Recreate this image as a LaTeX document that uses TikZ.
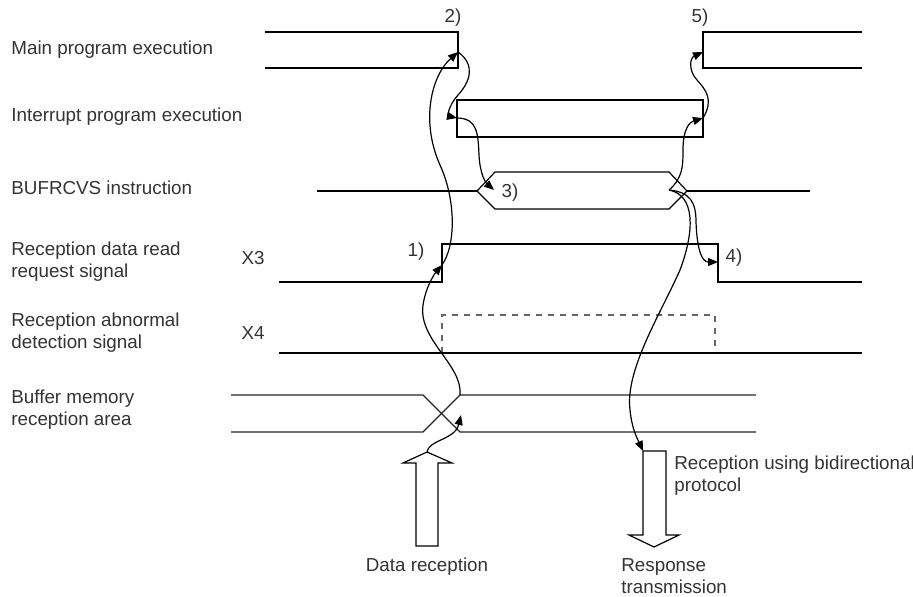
\documentclass[tikz,border=0pt]{standalone}
\usepackage{fontspec}
\setmainfont{Liberation Sans}
\usetikzlibrary{arrows.meta}

\begin{document}
\begin{tikzpicture}[x=0.5pt, y=-0.5pt,
    every node/.style={font=\fontsize{9.4}{11}\selectfont, text=black!80, inner sep=0pt},
    lbl/.style={anchor=west, align=left},
    sig/.style={line width=0.6pt},
    flow/.style={-{Triangle[length=5pt,width=4pt]}, line width=0.6pt}]
    \useasboundingbox (0,0) rectangle (913,596);

    % Row labels
    \node[lbl] (lmain) at (11,50) {Main program execution};
    \node[lbl] (lint) at (11,117) {Interrupt program execution};
    \node[lbl] (linst) at (11,188) {BUFRCVS instruction};
    \node[lbl] (lx3) at (11,262) {Reception data read\\request signal};
    \node[lbl] (lx4) at (11,333) {Reception abnormal\\detection signal};
    \node[lbl] (lbuf) at (11,410) {Buffer memory\\reception area};
    \node (x3) at (253,258) {X3};
    \node (x4) at (253,333) {X4};

    % Main program
    \draw[sig] (265,32) -- (458,32) -- (458,68) -- (265,68);
    \draw[sig] (862,32) -- (703,32) -- (703,68) -- (862,68);
    \node (n2) at (453,18) {2)};
    \node (n5) at (700,18) {5)};

    % Interrupt program
    \draw[sig] (457,100) rectangle (703,137);

    % BUFRCVS instruction
    \draw[sig] (317,191) -- (477,191);
    \draw[sig] (477,191) -- (495,172) -- (669,172) -- (687,191) -- (669,209) -- (495,209) -- cycle;
    \draw[sig] (687,191) -- (810,191);
    \node (n3) at (510,193) {3)};

    % X3 and X4
    \draw[sig] (279,282) -- (442,282) -- (442,244) -- (718,244) -- (718,282) -- (862,282);
    \node (n1) at (416,252) {1)};
    \node (n4) at (734,258) {4)};
    \draw[dashed, black!60, line width=0.6pt] (442,353) -- (442,315) -- (715,315) -- (715,353);
    \draw[line width=0.9pt] (279,353) -- (862,353);

    % Buffer memory
    \draw[sig, black!85] (231,395) -- (423,395) -- (460,432) -- (756,432);
    \draw[sig, black!85] (231,432) -- (423,432) -- (460,395) -- (756,395);

    % Block arrows
    \draw[sig] (416,546) -- (416,463) -- (403,463) -- (427,452) -- (452,463) -- (438,463) -- (438,546) -- cycle;
    \draw[sig] (643,451) -- (643,535) -- (629,535) -- (654,547) -- (679,535) -- (666,535) -- (666,451) -- cycle;
    \node (lrx) at (427,567) {Data reception};
    \node[lbl] (ltx) at (621,576) {Response\\transmission};
    \node[lbl] (lbi) at (674,476) {Reception using bidirectional\\protocol};

    % Event points
    \coordinate (rxTip) at (427,453);
    \coordinate (bufIn) at (461,415);
    \coordinate (bufTop) at (460,395);
    \coordinate (x3Rise) at (442,265);
    \coordinate (mainEnd) at (458,52);
    \coordinate (intStart) at (457,118);
    \coordinate (instHead) at (494,190);
    \coordinate (instEnd) at (669,190);
    \coordinate (intEnd) at (703,118);
    \coordinate (mainResume) at (703,52);
    \coordinate (x3Fall) at (718,262);
    \coordinate (txIn) at (643,451);

    % Flow of processing
    \draw[flow] (rxTip) .. controls (427,440) and (455,440) .. (bufIn);
    \draw[flow] (bufTop) .. controls (463,365) and (418,340) .. (423,305) .. controls (426,285) and (436,272) .. (x3Rise);
    \draw[flow] (x3Rise) .. controls (456,245) and (456,200) .. (440,165) .. controls (420,120) and (432,75) .. (mainEnd);
    \draw[flow] (mainEnd) .. controls (476,65) and (470,82) .. (458,95) .. controls (448,106) and (448,116) .. (intStart);
    \draw[flow] (intStart) .. controls (478,118) and (478,135) .. (479,155) .. controls (480,175) and (486,183) .. (instHead);
    \draw[flow] (instEnd) .. controls (683,178) and (683,165) .. (683,150) .. controls (683,128) and (690,122) .. (intEnd);
    \draw[flow] (intEnd) .. controls (714,100) and (706,90) .. (697,80) .. controls (688,70) and (690,58) .. (mainResume);
    \draw[flow] (instEnd) .. controls (690,192) and (696,202) .. (696,222) .. controls (697,250) and (702,262) .. (x3Fall);
    \draw[flow] (instEnd) .. controls (695,195) and (695,230) .. (680,270) .. controls (660,315) and (625,370) .. (630,410) .. controls (632,430) and (638,440) .. (txIn);
\end{tikzpicture}
\end{document}
